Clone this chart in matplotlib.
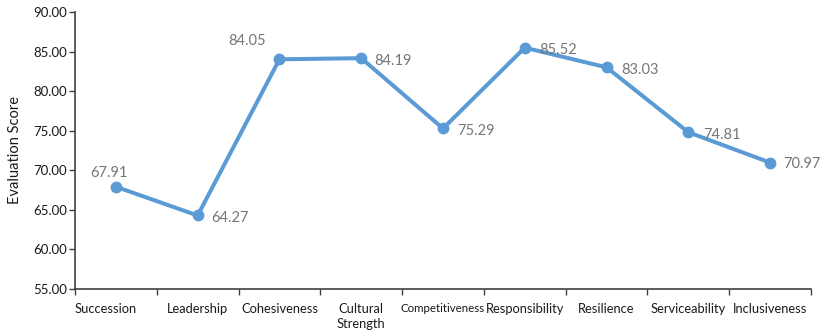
import matplotlib
matplotlib.use("Agg")
import matplotlib.pyplot as plt
import numpy as np

categories = ["Succession", "Leadership", "Cohesiveness", "Cultural\nStrength",
              "Competitiveness", "Responsibility", "Resilience", "Serviceability",
              "Inclusiveness"]
scores = [67.91, 64.27, 84.05, 84.19, 75.29, 85.52, 83.03, 74.81, 70.97]
yticks = [55, 60, 65, 70, 75, 80, 85, 90]

# label offsets in points (dx, dy) relative to each marker
label_offsets = [(-5, 10), (23, -2), (-23, 13), (23, -2), (24, -2),
                 (24, -2), (24, -2), (24, -2), (23, -1)]

plt.rcParams['font.family'] = ['Lato', 'DejaVu Sans']

fig = plt.figure(figsize=(8.25, 3.34), dpi=100)
ax = fig.add_axes([75/825, 1-288.7/334, (811-75)/825, (288.7-12.3)/334])

x = np.arange(len(categories))
color = "#5B9BD5"
ax.plot(x, scores, color=color, lw=2.9, marker="o", ms=7.5, zorder=3,
        solid_joinstyle="round")

for xi, v, (dx, dy) in zip(x, scores, label_offsets):
    ax.annotate(f"{v:.2f}", (xi, v), xytext=(dx, dy), textcoords="offset points",
                ha="center", va="center", fontsize=10.5, color="#767676")

ax.set_xlim(-0.5, len(categories) - 0.5)
ax.set_ylim(55, 90)
ax.set_yticks(yticks)
ax.set_yticklabels([f"{t:.2f}" for t in yticks], fontsize=9.5, color="#1a1a1a")

# ticks sit between categories; labels go under each point, the first one
# nudged left so it stays clear of the axis corner
label_pos = x.astype(float)
label_pos[0] -= 0.13
ax.set_xticks(np.arange(-0.5, len(categories)), minor=False)
ax.set_xticklabels([])
ax.set_xticks(label_pos, minor=True)
ax.set_xticklabels(categories, minor=True, fontsize=9.3, color="#1a1a1a",
                   va="top", linespacing=1.25)
for lbl in ax.get_xticklabels(minor=True):
    if lbl.get_text() == "Competitiveness":
        lbl.set_fontsize(8.3)
ax.tick_params(axis="x", which="minor", length=0, pad=10.5)
ax.tick_params(axis="x", which="major", length=4, color="#404040", width=1)
ax.tick_params(axis="y", length=4, color="#404040", width=1, pad=2)

for s in ["top", "right"]:
    ax.spines[s].set_visible(False)
for s in ["left", "bottom"]:
    ax.spines[s].set_color("#404040")
    ax.spines[s].set_linewidth(1.2)

ax.set_ylabel("Evaluation Score", fontsize=10.5, color="#1a1a1a", labelpad=8)

fig.savefig("out.png", dpi=100)
